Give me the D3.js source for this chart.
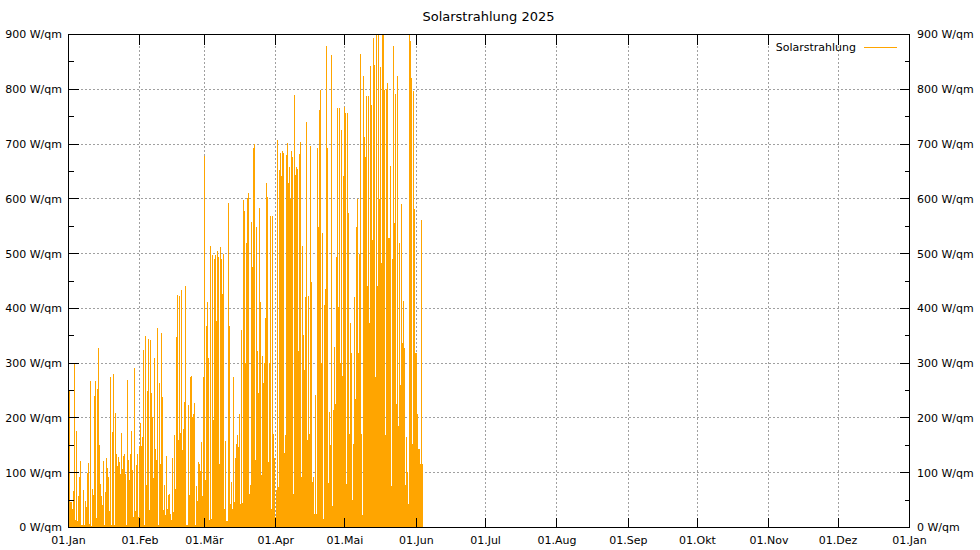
<!DOCTYPE html>
<html>
<head>
<meta charset="utf-8">
<script src="https://cdn.jsdelivr.net/npm/d3@7"></script>
<style>
  html, body { margin: 0; padding: 0; background: #ffffff; }
  svg { display: block; }
</style>
</head>
<body>
<script>
// ---------- data ----------
const chartTitle = "Solarstrahlung 2025";
const seriesName = "Solarstrahlung";
const unit = " W/qm";
const monthLabels = ["01.Jan","01.Feb","01.Mär","01.Apr","01.Mai","01.Jun","01.Jul","01.Aug","01.Sep","01.Okt","01.Nov","01.Dez","01.Jan"];
const yTickValues = [0,100,200,300,400,500,600,700,800,900];
const yMinorValues = [50,150,250,350,450,550,650,750,850];
const sampleStart = "2025-01-01T10:24:00Z";   // first sample
const sampleStepHours = 10.4;                  // sampling interval
// Solarstrahlung (W/qm)
const solarValues = [
  249,46,46,33,66,300,13,177,11,58,
  92,121,5,5,68,5,48,37,99,118,
  7,267,3,70,60,240,267,17,252,327,
  150,79,57,41,121,5,65,127,109,92,
  30,274,5,174,281,5,209,135,112,129,
  120,98,172,107,130,
  135,98,5,270,123,86,135,177,105,20,
  291,31,115,135,19,148,190,148,165,324,
  5,349,77,250,345,32,342,245,202,90,
  310,144,
  123,364,5,263,116,355,238,32,77,22,
  131,33,60,62,24,13,127,29,168,71,
  348,424,159,423,173,434,141,180,229,441,
  5,5,223,60,275,276,202,207,227,5,
  76,49,120,116,104,
  156,58,275,679,86,368,412,309,14,513,
  16,498,196,490,498,377,505,493,116,512,
  490,426,499,33,157,11,12,593,368,43,
  83,34,274,46,126,153,168,147,208,43,
  360,45,598,577,300,
  519,601,610,62,77,557,476,693,700,123,
  549,322,245,583,412,95,313,263,300,383,
  629,604,120,300,568,34,568,171,126,19,
  68,708,74,652,683,641,687,683,136,168,
  680,702,629,659,600,
  688,677,62,790,644,659,655,322,682,704,
  92,513,351,287,420,741,160,423,171,697,
  449,83,92,25,241,25,693,549,763,799,
  300,538,16,406,436,879,692,81,211,150,
  862,40,214,330,226,
  493,766,403,766,300,726,276,641,767,757,
  80,757,574,171,374,319,51,153,421,234,
  549,599,319,499,865,170,22,825,712,676,
  787,441,788,374,843,772,525,893,844,275,
  900,440,900,600,840,
  483,900,900,799,168,800,812,528,528,147,
  660,75,491,879,555,792,226,825,185,519,
  260,591,336,413,327,77,165,101,43,899,
  888,821,153,796,581,319,319,208,144,144,
  116,562,116
];

// ---------- chart ----------
const W = 980, H = 550;
const font = "'DejaVu Sans', Verdana, sans-serif";
const orange = "#ffa500";

const svg = d3.select("body").append("svg")
  .attr("width", W).attr("height", H)
  .style("font-family", font);

svg.append("rect").attr("width", W).attr("height", H).attr("fill", "#fff");

const x = d3.scaleUtc()
  .domain([new Date(Date.UTC(2025,0,1)), new Date(Date.UTC(2026,0,1))])
  .range([68.5, 909.5]);
const y = d3.scaleLinear().domain([0, 900]).range([527.5, 34.5]);

const t0 = new Date(sampleStart).getTime();
const sampleTime = i => new Date(t0 + i * sampleStepHours * 3600 * 1000);
const monthDates = d3.utcMonth.range(new Date(Date.UTC(2025,0,1)), new Date(Date.UTC(2026,0,2)));

// grid
const grid = svg.append("g").attr("stroke", "#a0a0a0").attr("stroke-width", 1)
  .attr("stroke-dasharray", "2,2").attr("shape-rendering", "crispEdges");
grid.selectAll(".gy").data(yTickValues.filter(v => v > 0 && v < 900)).join("line")
  .attr("x1", x.range()[0]).attr("x2", x.range()[1])
  .attr("y1", d => y(d)).attr("y2", d => y(d));
grid.selectAll(".gx").data(monthDates.slice(1, -1)).join("line")
  .attr("x1", d => x(d)).attr("x2", d => x(d))
  .attr("y1", y.range()[0]).attr("y2", y.range()[1]);

// data (impulses)
svg.append("clipPath").attr("id", "plotclip").append("rect")
  .attr("x", 68).attr("y", 34).attr("width", 842).attr("height", 494);
svg.append("g").attr("clip-path", "url(#plotclip)")
  .attr("stroke", orange).attr("stroke-width", 1).attr("shape-rendering", "crispEdges")
  .selectAll("line").data(solarValues).join("line")
  .attr("x1", (d, i) => x(sampleTime(i))).attr("x2", (d, i) => x(sampleTime(i)))
  .attr("y1", y(0)).attr("y2", d => y(d));

// border
svg.append("rect")
  .attr("x", 68.5).attr("y", 34.5).attr("width", 841).attr("height", 493)
  .attr("fill", "none").attr("stroke", "#000").attr("stroke-width", 1)
  .attr("shape-rendering", "crispEdges");

// ticks
const ticks = svg.append("g").attr("stroke", "#000").attr("stroke-width", 1).attr("shape-rendering", "crispEdges");
const L = x.range()[0], R = x.range()[1];
ticks.selectAll(".ly").data(yTickValues).join("line")
  .attr("x1", L).attr("x2", L + 10).attr("y1", d => y(d)).attr("y2", d => y(d));
ticks.selectAll(".ry").data(yTickValues).join("line")
  .attr("x1", R).attr("x2", R - 10).attr("y1", d => y(d)).attr("y2", d => y(d));
ticks.selectAll(".lmy").data(yMinorValues).join("line")
  .attr("x1", L).attr("x2", L + 5).attr("y1", d => y(d)).attr("y2", d => y(d));
ticks.selectAll(".rmy").data(yMinorValues).join("line")
  .attr("x1", R).attr("x2", R - 5).attr("y1", d => y(d)).attr("y2", d => y(d));
ticks.selectAll(".bx").data(monthDates).join("line")
  .attr("x1", d => x(d)).attr("x2", d => x(d)).attr("y1", y.range()[0]).attr("y2", y.range()[0] - 10);
ticks.selectAll(".tx").data(monthDates).join("line")
  .attr("x1", d => x(d)).attr("x2", d => x(d)).attr("y1", y.range()[1]).attr("y2", y.range()[1] + 10);

// tick labels
const labels = svg.append("g").attr("font-size", "11px").attr("fill", "#000");
labels.selectAll(".yl").data(yTickValues).join("text")
  .attr("x", 62).attr("y", d => y(d)).attr("dy", "0.36em").attr("text-anchor", "end")
  .text(d => d + unit);
labels.selectAll(".yr").data(yTickValues).join("text")
  .attr("x", 917).attr("y", d => y(d)).attr("dy", "0.36em").attr("text-anchor", "start")
  .text(d => d + unit);
labels.selectAll(".xl").data(monthDates).join("text")
  .attr("x", d => x(d)).attr("y", 544).attr("text-anchor", "middle")
  .text((d, i) => monthLabels[i]);

// title
svg.append("text").attr("x", 488.5).attr("y", 21).attr("text-anchor", "middle")
  .attr("font-size", "13px").text(chartTitle);

// legend
svg.append("text").attr("x", 856).attr("y", 47.5).attr("dy", "0.36em")
  .attr("text-anchor", "end").attr("font-size", "11px").text(seriesName);
svg.append("line").attr("x1", 864).attr("x2", 897).attr("y1", 47.5).attr("y2", 47.5)
  .attr("stroke", orange).attr("stroke-width", 1).attr("shape-rendering", "crispEdges");
</script>
</body>
</html>
